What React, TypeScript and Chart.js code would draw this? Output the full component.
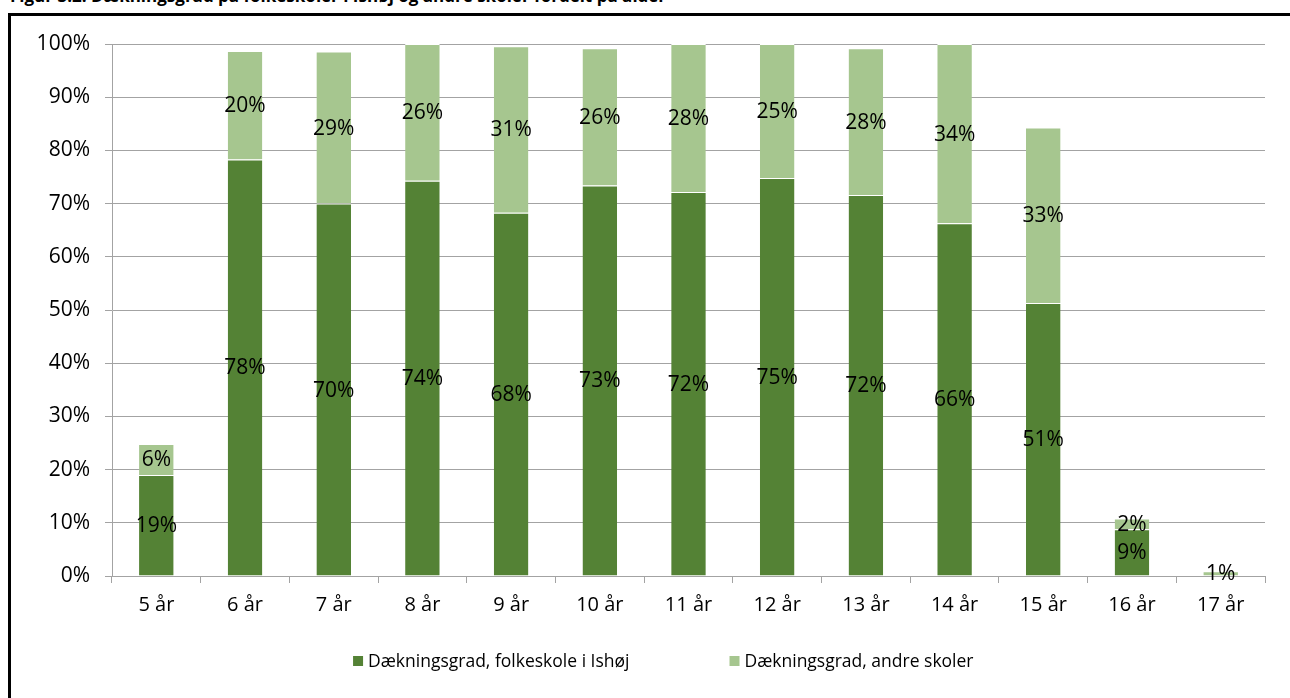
import React, { useEffect, useRef } from "react";
import { Chart, registerables } from "chart.js";

Chart.register(...registerables);

const categories = ["5 år", "6 år", "7 år", "8 år", "9 år", "10 år", "11 år", "12 år", "13 år", "14 år", "15 år", "16 år", "17 år"];
const folkeskole = [19.0, 78.3, 70.0, 74.3, 68.3, 73.4, 72.2, 74.8, 71.6, 66.3, 51.3, 8.8, null];
const andreSkoler = [5.8, 20.4, 28.6, 25.7, 31.3, 25.8, 27.8, 25.2, 27.6, 33.7, 33.0, 2.0, 0.9];
const seriesNames = ["Dækningsgrad, folkeskole i Ishøj", "Dækningsgrad, andre skoler"];
const yTicks = [0, 10, 20, 30, 40, 50, 60, 70, 80, 90, 100];
const titleText = "Figur 3.2: Dækningsgrad på folkeskoler i Ishøj og andre skoler fordelt på alder";

const DARK = "#548235";
const LIGHT = "#A6C68F";
const GRID = "#A3A3A3";
const FONT = "'Open Sans', 'Noto Sans', sans-serif";

const dataLabelPlugin = {
  id: "segLabels",
  afterDatasetsDraw(chart: any) {
    const ctx = chart.ctx;
    ctx.save();
    ctx.font = `21px ${FONT}`;
    ctx.fillStyle = "#000";
    ctx.textAlign = "center";
    ctx.textBaseline = "middle";
    chart.data.datasets.forEach((ds: any, di: number) => {
      const meta = chart.getDatasetMeta(di);
      meta.data.forEach((el: any, i: number) => {
        const v = ds.data[i];
        if (v === null || v === undefined || v <= 0) return;
        const p = el.getProps(["x", "y", "base"], true);
        ctx.fillText(Math.round(v) + "%", p.x, (p.y + p.base) / 2 + 1);
      });
    });
    ctx.restore();
  },
};

const legendPlugin = {
  id: "customLegend",
  afterDraw(chart: any) {
    const ctx = chart.ctx;
    ctx.save();
    ctx.font = `17.5px ${FONT}`;
    ctx.textBaseline = "middle";
    ctx.textAlign = "left";
    const colors = [DARK, LIGHT];
    const box = 10;
    const gapBoxText = 5;
    const gapItems = 100;
    const widths = seriesNames.map((n) => ctx.measureText(n).width);
    const total = widths.reduce((a, w) => a + box + gapBoxText + w, 0) + gapItems * (seriesNames.length - 1);
    const centerX = chart.width * 0.51;
    const y = 645;
    let x = centerX - total / 2;
    seriesNames.forEach((n, i) => {
      ctx.fillStyle = colors[i];
      ctx.fillRect(x, y - box / 2, box, box);
      ctx.fillStyle = "#000";
      ctx.fillText(n, x + box + gapBoxText, y + 1);
      x += box + gapBoxText + widths[i] + gapItems;
    });
    ctx.restore();
  },
};

function BarChart() {
  const ref = useRef<HTMLCanvasElement | null>(null);
  useEffect(() => {
    if (!ref.current) return;
    const chart = new Chart(ref.current, {
      type: "bar",
      data: {
        labels: categories,
        datasets: [
          {
            label: seriesNames[0],
            data: folkeskole,
            backgroundColor: DARK,
            borderColor: "#fff",
            borderWidth: { top: 1, left: 0, right: 0, bottom: 0 },
            barPercentage: 0.39,
            categoryPercentage: 1,
          },
          {
            label: seriesNames[1],
            data: andreSkoler,
            backgroundColor: LIGHT,
            borderColor: "#fff",
            borderWidth: { top: 1, left: 0, right: 0, bottom: 0 },
            barPercentage: 0.39,
            categoryPercentage: 1,
          },
        ],
      },
      options: {
        animation: false,
        responsive: false,
        layout: { padding: { left: 0, top: 28, right: 25, bottom: 54 } },
        plugins: {
          legend: { display: false },
          tooltip: { enabled: false },
          title: { display: false },
        },
        scales: {
          x: {
            stacked: true,
            grid: {
              display: true,
              drawOnChartArea: false,
              offset: true,
              tickLength: 7,
              color: GRID,
            },
            border: { color: GRID, width: 1 },
            ticks: {
              color: "#000",
              font: { family: FONT, size: 20 },
              padding: 10,
              maxRotation: 0,
              autoSkip: false,
            },
            afterFit: (scale: any) => {
              scale.height = 60;
            },
          },
          y: {
            stacked: true,
            min: 0,
            max: 100,
            afterBuildTicks: (scale: any) => {
              scale.ticks = yTicks.map((v) => ({ value: v }));
            },
            grid: { color: GRID, tickLength: 7, lineWidth: 1 },
            border: { color: GRID, width: 1 },
            ticks: {
              color: "#000",
              font: { family: FONT, size: 21 },
              padding: 15,
              callback: (v: any) => v + "%",
            },
            afterFit: (scale: any) => {
              scale.width = 101;
            },
          },
        },
      },
      plugins: [dataLabelPlugin, legendPlugin],
    });
    return () => chart.destroy();
  }, []);
  return <canvas ref={ref} width={1279} height={674} style={{ display: "block" }} />;
}

export default function App() {
  return (
    <div
      style={{
        position: "fixed",
        left: 0,
        top: 0,
        width: 1290,
        height: 698,
        overflow: "hidden",
        background: "#fff",
      }}
    >
      <div
        style={{
          position: "absolute",
          left: 10,
          top: 0,
          width: 720,
          height: 7,
          overflow: "hidden",
          zIndex: 5,
        }}
      >
        <span
          style={{
            position: "absolute",
            left: 0,
            bottom: 3,
            fontFamily: "'Open Sans', sans-serif",
            fontWeight: 700,
            fontSize: 17,
            lineHeight: 1,
            whiteSpace: "nowrap",
            color: "#000",
            display: "block",
          }}
        >
          {titleText}
        </span>
      </div>
      <div
        style={{
          position: "absolute",
          left: 8,
          top: 13,
          width: 1400,
          height: 800,
          border: "3px solid #000",
          boxSizing: "border-box",
        }}
      />
      <div style={{ position: "absolute", left: 11, top: 16 }}>
        <BarChart />
      </div>
    </div>
  );
}
